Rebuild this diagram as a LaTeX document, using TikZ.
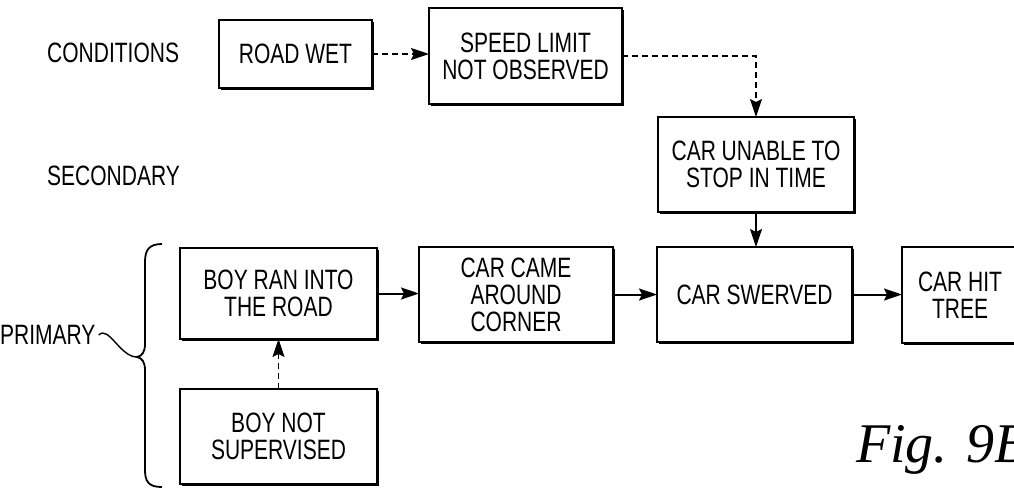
\documentclass[tikz,border=0pt]{standalone}
\usepackage{fontspec}
\setmainfont{Liberation Sans}[FakeStretch=0.75]
\newfontfamily\figfont{Liberation Serif}
\usetikzlibrary{arrows.meta,shadows}
\begin{document}
\begin{tikzpicture}[x=1pt,y=-1pt,
  box/.style={draw, fill=white, line width=2pt, inner sep=0pt, outer sep=0pt,
    align=center, font=\fontsize{28}{27}\selectfont,
    drop shadow={shadow xshift=2.2pt, shadow yshift=-2.2pt, fill=black, opacity=1}},
  lbl/.style={anchor=west, inner sep=0pt, font=\fontsize{28}{27}\selectfont},
  solidarrow/.style={line width=2pt, -{Stealth[length=18pt,width=12pt,inset=3pt]}},
  dasharrow/.style={line width=1.6pt, dash pattern=on 6pt off 4pt, -{Stealth[length=18pt,width=12pt,inset=3pt]}}
]
\useasboundingbox (0,0) rectangle (1014,488);
\clip (0,0) rectangle (1014,488);
\node[lbl] (cond) at (47,53) {CONDITIONS};
\node[lbl] (sec) at (47,176) {SECONDARY};
\node[lbl] (prim) at (0,335) {PRIMARY};

\node[box, minimum width=153pt, minimum height=68pt] (roadwet) at (295.5,54) {ROAD WET};
\node[box, minimum width=193pt, minimum height=96pt] (speed) at (525.5,56) {SPEED LIMIT\\NOT OBSERVED};
\node[box, minimum width=196pt, minimum height=95pt] (unable) at (756,164.5) {CAR UNABLE TO\\STOP IN TIME};
\node[box, minimum width=197pt, minimum height=91pt] (boyran) at (278.5,293.5) {BOY RAN INTO\\THE ROAD};
\node[box, minimum width=194pt, minimum height=95pt] (carcame) at (516,294.5) {CAR CAME\\AROUND\\CORNER};
\node[box, minimum width=195pt, minimum height=95pt] (swerved) at (754.5,294.5) {CAR SWERVED};
\node[box, minimum width=116pt, minimum height=96pt] (hittree) at (960,295) {CAR HIT\\TREE};
\node[box, minimum width=197pt, minimum height=95pt] (boynot) at (278.5,436.5) {BOY NOT\\SUPERVISED};

\draw[dasharrow] (roadwet.east) -- (speed.west |- roadwet.east);
\draw[dasharrow] (speed.east) -| (unable.north);
\draw[solidarrow] (unable.south) -- (unable.south |- swerved.north);
\draw[solidarrow] (boyran.east) -- (carcame.west |- boyran.east);
\draw[solidarrow] (carcame.east) -- (swerved.west);
\draw[solidarrow] (swerved.east) -- (hittree.west |- swerved.east);
\draw[dasharrow] (boynot.north) -- (boyran.south);

\coordinate (tip) at (137,357);
\draw[line width=1.8pt] (162,244) .. controls (149,244) and (145,250) .. (145,262) -- (145,344)
  .. controls (145,352) and (142,356) .. (tip)
  .. controls (142,358) and (145,362) .. (145,370) -- (145,470)
  .. controls (145,482) and (149,487) .. (162,487);
\draw[line width=1.4pt] (prim.east) ++(3,0) .. controls +(10,-10) and (120,357) .. (tip);

\node[anchor=base west, inner sep=0pt, font=\figfont\itshape\fontsize{56}{60}\selectfont] (fig) at (856,462) {Fig. 9B};
\end{tikzpicture}
\end{document}
